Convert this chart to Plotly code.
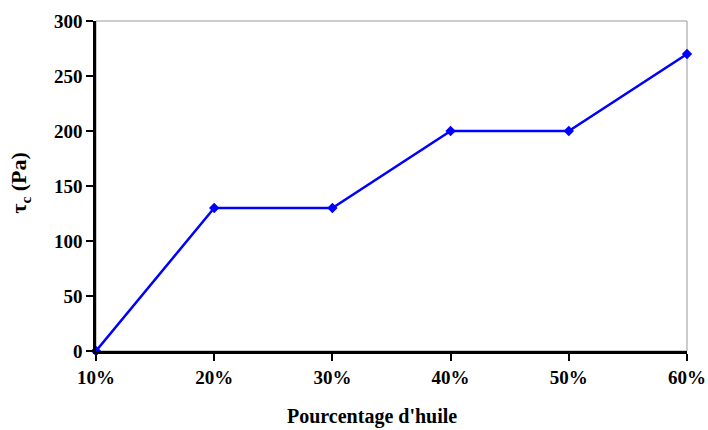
import plotly.graph_objects as go

# oil percentage categories and yield stress values
categories = ['10%', '20%', '30%', '40%', '50%', '60%']
tau_c = [0, 130, 130, 200, 200, 270]
y_ticks = [0, 50, 100, 150, 200, 250, 300]
x_pos = list(range(len(categories)))

font = dict(family='Liberation Serif, Times New Roman, serif', size=19, color='black')

fig = go.Figure(go.Scatter(
    x=x_pos,
    y=tau_c,
    mode='lines+markers',
    line=dict(color='#0000ff', width=2.5),
    marker=dict(symbol='diamond', size=8, color='#0000ff'),
    cliponaxis=False,
))

# thin grey frame on top/right like the original
fig.add_shape(type='rect', xref='paper', yref='paper', x0=0, y0=0, x1=1, y1=1,
              line=dict(color='#999999', width=1), layer='below')

# axis titles as annotations (the x title sits a bit left of centre)
fig.add_annotation(text="<b>Pourcentage d'huile</b>", xref='paper', yref='paper',
                   x=0.467, y=0, yshift=-65, xanchor='center', yanchor='middle',
                   showarrow=False, font=dict(size=20))
fig.add_annotation(text='<b>τ<sub>c</sub> (Pa)</b>', xref='paper', yref='paper',
                   x=0, y=0.51, xshift=-76, xanchor='center', yanchor='middle',
                   textangle=-90, showarrow=False, font=dict(size=22))

fig.update_layout(
    width=708, height=430,
    margin=dict(l=96, r=21, t=21, b=79, autoexpand=False),
    paper_bgcolor='white', plot_bgcolor='white',
    font=font,
    showlegend=False,
    xaxis=dict(
        range=[0, len(categories) - 1],
        tickvals=x_pos, ticktext=['<b>%s</b>' % c for c in categories],
        ticks='outside', ticklen=7, tickwidth=2, tickcolor='black',
        showline=True, linecolor='black', linewidth=2.5,
        showgrid=False, zeroline=False, automargin=False,
    ),
    yaxis=dict(
        range=[0, 300],
        tickvals=y_ticks,
        ticktext=['<b>%d</b>' % v for v in y_ticks],
        ticks='outside', ticklen=7, tickwidth=2, tickcolor='black',
        showline=True, linecolor='black', linewidth=2.5,
        showgrid=False, zeroline=False, automargin=False,
    ),
)

fig.write_html('out.html', config={'displayModeBar': False},
               post_script="document.body.style.margin='0';")
